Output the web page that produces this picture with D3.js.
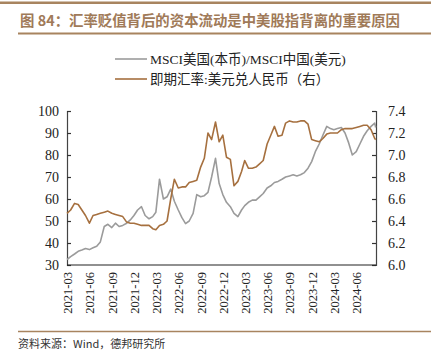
<!DOCTYPE html>
<html><head><meta charset="utf-8">
<script src="https://cdn.jsdelivr.net/npm/d3@7"></script>
<style>html,body{margin:0;padding:0;background:#fff;}svg{display:block;}</style>
</head><body>
<script>
const title = "图 84：汇率贬值背后的资本流动是中美股指背离的重要原因";
const source = "资料来源：Wind，德邦研究所";
const seriesNames = ["MSCI美国(本币)/MSCI中国(美元)", "即期汇率:美元兑人民币（右）"];
const xTickLabels = ["2021-03","2021-06","2021-09","2021-12","2022-03","2022-06","2022-09","2022-12","2023-03","2023-06","2023-09","2023-12","2024-03","2024-06"];
const leftTicks = [30,40,50,60,70,80,90,100];
const rightTicks = [6.0,6.2,6.4,6.6,6.8,7.0,7.2,7.4];
const dates = [
"2021-03-01","2021-03-16","2021-04-01","2021-04-16","2021-05-01","2021-05-16","2021-06-01","2021-06-16","2021-07-01","2021-07-16","2021-08-01","2021-08-16","2021-09-01","2021-09-16","2021-10-01","2021-10-16","2021-11-01","2021-11-16","2021-12-01","2021-12-16",
"2022-01-01","2022-01-16","2022-02-01","2022-02-16","2022-03-01","2022-03-16","2022-04-01","2022-04-16","2022-05-01","2022-05-16","2022-06-01","2022-06-16","2022-07-01","2022-07-16","2022-08-01","2022-08-16","2022-09-01","2022-09-16","2022-10-01","2022-10-16","2022-11-01","2022-11-16","2022-12-01","2022-12-16",
"2023-01-01","2023-01-16","2023-02-01","2023-02-16","2023-03-01","2023-03-16","2023-04-01","2023-04-16","2023-05-01","2023-05-16","2023-06-01","2023-06-16","2023-07-01","2023-07-16","2023-08-01","2023-08-16","2023-09-01","2023-09-16","2023-10-01","2023-10-16","2023-11-01","2023-11-16","2023-12-01","2023-12-16",
"2024-01-01","2024-01-16","2024-02-01","2024-02-16","2024-03-01","2024-03-16","2024-04-01","2024-04-16","2024-05-01","2024-05-16","2024-06-01","2024-06-16","2024-07-01","2024-07-16","2024-08-01","2024-08-16","2024-08-20"];
const msciRatio = [
32.5,33.8,35.0,36.2,36.8,37.5,37.0,37.8,38.5,40.5,47.5,48.5,47.0,49.0,47.5,48.0,49.0,50.5,52.5,55.0,
56.5,52.5,51.0,52.0,54.0,69.0,60.0,61.0,64.5,59.0,55.0,51.5,48.8,50.0,53.5,62.0,61.0,61.5,63.0,70.0,78.5,67.0,62.0,58.5,
56.5,53.5,52.0,55.0,57.0,58.5,59.5,59.5,61.0,62.5,65.0,66.0,67.5,68.0,69.0,70.0,70.5,71.0,70.5,71.0,72.0,74.0,77.0,81.5,
85.0,89.0,93.0,92.0,91.5,92.0,92.5,90.0,85.5,80.0,81.5,85.0,88.5,91.0,93.0,94.5,92.5];
const usdCny = [
6.47,6.50,6.56,6.55,6.50,6.45,6.38,6.45,6.46,6.47,6.48,6.49,6.47,6.46,6.45,6.44,6.39,6.38,6.38,6.37,
6.36,6.36,6.36,6.33,6.32,6.36,6.37,6.40,6.60,6.78,6.70,6.71,6.71,6.75,6.76,6.77,6.89,6.97,7.20,7.14,7.30,7.12,7.18,6.98,
6.96,6.72,6.76,6.85,6.95,6.88,6.88,6.89,6.92,6.95,7.10,7.18,7.26,7.17,7.18,7.29,7.31,7.30,7.30,7.31,7.31,7.28,7.14,7.13,
7.12,7.15,7.19,7.20,7.20,7.20,7.23,7.24,7.24,7.24,7.25,7.26,7.27,7.27,7.23,7.15,7.14];

const W = 438, H = 359;
const brown = "#a6703f", gray = "#9b9b9b", frame = "#a8845f";
const m = {left: 67, right: 376, top: 111, bottom: 265};
const parse = d3.timeParse("%Y-%m-%d");
const data = dates.map((d,i)=>({date: parse(d), a: msciRatio[i], b: usdCny[i]}));

const svg = d3.select("body").append("svg").attr("width", W).attr("height", H);
svg.append("rect").attr("width", W).attr("height", H).attr("fill", "#fff");

// header
svg.append("line").attr("x1", 0).attr("x2", 431).attr("y1", 2.8).attr("y2", 2.8).attr("stroke", frame).attr("stroke-width", 2.5);
svg.append("text").attr("x", 20).attr("y", 26).text(title)
  .attr("font-family", "'Noto Sans CJK SC', sans-serif").attr("font-weight", "bold")
  .attr("font-size", 14.5).attr("fill", "#a07a58").attr("textLength", 380).attr("lengthAdjust", "spacingAndGlyphs");
svg.append("line").attr("x1", 18).attr("x2", 431).attr("y1", 33.5).attr("y2", 33.5).attr("stroke", frame).attr("stroke-width", 2);

// scales
const x = d3.scaleTime().domain([parse("2021-03-01"), parse("2024-08-20")]).range([m.left, m.right - 0.3]);
const yL = d3.scaleLinear().domain([30, 100]).range([m.bottom, m.top]);
const yR = d3.scaleLinear().domain([6.0, 7.4]).range([m.bottom, m.top]);

const serif = "'Liberation Serif', 'Times New Roman', serif";
// axes
const gL = svg.append("g").attr("transform", `translate(${m.left},0)`)
  .call(d3.axisLeft(yL).tickValues(leftTicks).tickSize(-4).tickPadding(8).tickFormat(d3.format("d")));
const gR = svg.append("g").attr("transform", `translate(${m.right},0)`)
  .call(d3.axisRight(yR).tickValues(rightTicks).tickSize(-4).tickPadding(12).tickFormat(d3.format(".1f")));
[gL, gR].forEach(g => {
  g.select(".domain").attr("stroke", "#444").attr("stroke-width", 1.2);
  g.selectAll(".tick line").attr("stroke", "#333").attr("stroke-width", 1.2);
  g.selectAll("text").attr("font-family", serif).attr("font-size", 14).attr("fill", "#222");
});
const tickDates = xTickLabels.map(s => parse(s + "-01"));
const gX = svg.append("g").attr("transform", `translate(0,${m.bottom})`)
  .call(d3.axisBottom(x).tickValues(tickDates).tickSize(0).tickFormat(d3.timeFormat("%Y-%m")));
gX.select(".domain").attr("stroke", "#222").attr("stroke-width", 1.2).attr("d", `M${m.left},0H${m.right}`);
gX.selectAll("text").attr("font-family", serif).attr("font-size", 12.5).attr("fill", "#222")
  .attr("text-anchor", "end").attr("dy", "0.35em").attr("dx", 0)
  .attr("transform", "translate(0,7) rotate(-90)").attr("x", 0).attr("y", 0);

// lines
const lineA = d3.line().x(d => x(d.date)).y(d => yL(d.a));
const lineB = d3.line().x(d => x(d.date)).y(d => yR(d.b));
svg.append("path").datum(data).attr("d", lineA).attr("fill", "none").attr("stroke", gray).attr("stroke-width", 1.6).attr("stroke-linejoin", "round");
svg.append("path").datum(data).attr("d", lineB).attr("fill", "none").attr("stroke", brown).attr("stroke-width", 1.6).attr("stroke-linejoin", "round");

// legend
const leg = [{name: seriesNames[0], color: gray, y: 59}, {name: seriesNames[1], color: brown, y: 79}];
leg.forEach(l => {
  svg.append("line").attr("x1", 115).attr("x2", 147).attr("y1", l.y).attr("y2", l.y).attr("stroke", l.color).attr("stroke-width", 1.6);
  svg.append("text").attr("x", 150).attr("y", l.y).attr("dy", "0.35em").text(l.name)
    .attr("font-family", "'Liberation Serif', 'Noto Sans CJK SC', serif").attr("font-size", 13.5).attr("fill", "#222");
});

// footer
svg.append("line").attr("x1", 18).attr("x2", 431).attr("y1", 331.5).attr("y2", 331.5).attr("stroke", frame).attr("stroke-width", 1.5);
svg.append("text").attr("x", 18).attr("y", 348).text(source)
  .attr("font-family", "'Noto Sans CJK SC', sans-serif").attr("font-size", 11).attr("fill", "#333");
</script>
</body></html>
